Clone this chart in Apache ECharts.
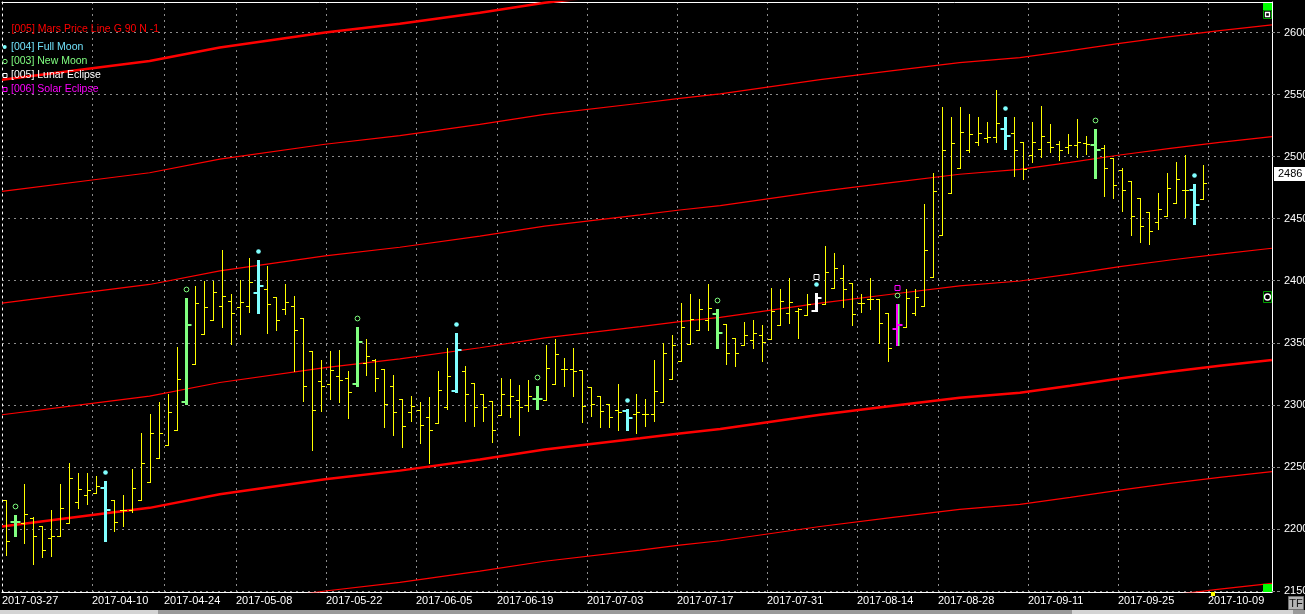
<!DOCTYPE html>
<html><head><meta charset="utf-8">
<script src="https://cdn.jsdelivr.net/npm/echarts@6/dist/echarts.min.js"></script>
<style>html,body{margin:0;padding:0;background:#000;overflow:hidden}#c{width:1305px;height:614px;}</style>
</head><body><div id="c"></div>
<script>
// ---------- data ----------
const labelIdx = [0,10,18,26,36,46,55,65,75,85,95,104,114,124,134];
const labelDates = ['2017-03-27','2017-04-10','2017-04-24','2017-05-08','2017-05-22','2017-06-05','2017-06-19','2017-07-03','2017-07-17','2017-07-31','2017-08-14','2017-08-28','2017-09-11','2017-09-25','2017-10-09'];
const yTicks = [2150,2200,2250,2300,2350,2400,2450,2500,2550,2600];

const opens = [2223,2206,2205,2209,2202,2193,2194,2205,2222,2227,
2229,2233,2223,2215,2215,2223,2238,2257,2268,2280,
2302,2333,2357,2368,2380,2384,2379,2380,2390,2393,
2387,2377,2380,2370,2343,2319,2317,2323,2322,2317,
2334,2336,2329,2315,2305,2294,2296,2290,2285,2298,
2311,2327,2318,2309,2303,2292,2300,2304,2300,2305,
2304,2317,2329,2329,2328,2314,2307,2301,2296,2295,
2293,2293,2293,2302,2321,2335,2349,2360,2368,2373,
2365,2354,2348,2352,2356,2353,2364,2374,2376,2372,
2376,2381,2394,2402,2398,2382,2385,2385,2374,2361,
2363,2374,2380,2403,2437,2471,2491,2505,2512,2515,
2516,2522,2519,2512,2501,2506,2512,2510,2508,2509,
2511,2509,2507,2499,2489,2480,2467,2455,2447,2452,
2463,2473,2473,2466];
const highs = [2223,2211,2236,2210,2202,2215,2236,2253,2245,2245,
2243,2239,2223,2227,2248,2277,2293,2302,2309,2347,
2386,2396,2400,2400,2425,2389,2401,2418,2417,2412,
2387,2397,2388,2370,2343,2336,2343,2344,2327,2363,
2353,2337,2329,2324,2305,2307,2302,2306,2327,2346,
2358,2331,2318,2309,2303,2322,2321,2316,2320,2315,
2348,2353,2338,2346,2328,2314,2307,2301,2317,2297,
2309,2305,2336,2350,2356,2382,2389,2385,2397,2377,
2365,2354,2367,2368,2364,2394,2393,2402,2378,2389,
2390,2428,2422,2413,2398,2389,2402,2385,2374,2381,
2393,2393,2462,2487,2540,2532,2540,2534,2532,2528,
2554,2532,2532,2512,2528,2541,2526,2513,2518,2530,
2517,2522,2509,2499,2491,2480,2467,2455,2471,2487,
2496,2501,2478,2493];
const lows = [2179,2194,2189,2172,2177,2178,2194,2205,2217,2220,
2229,2190,2198,2202,2214,2223,2238,2257,2268,2280,
2301,2333,2357,2368,2363,2349,2357,2375,2374,2358,
2360,2373,2327,2303,2264,2295,2305,2302,2289,2315,
2324,2311,2282,2276,2266,2287,2269,2253,2285,2297,
2310,2287,2283,2287,2270,2292,2290,2276,2295,2297,
2304,2317,2315,2307,2286,2291,2282,2282,2280,2280,
2277,2283,2287,2302,2321,2335,2349,2360,2360,2346,
2333,2331,2348,2346,2335,2353,2364,2366,2354,2372,
2376,2381,2394,2379,2364,2375,2377,2350,2335,2348,
2363,2372,2380,2403,2437,2471,2491,2504,2509,2512,
2512,2506,2484,2482,2496,2500,2504,2497,2503,2500,
2502,2483,2468,2467,2456,2437,2431,2430,2442,2452,
2463,2451,2446,2466];
const closes = [2190,2206,2212,2194,2183,2194,2217,2241,2232,2231,
2235,2215,2206,2215,2233,2253,2277,2277,2294,2321,
2364,2382,2379,2391,2388,2374,2383,2399,2396,2381,
2368,2383,2360,2315,2296,2315,2328,2320,2310,2351,
2339,2322,2301,2294,2283,2299,2284,2280,2312,2323,
2344,2309,2298,2298,2280,2309,2307,2298,2307,2305,
2330,2341,2329,2327,2299,2301,2295,2290,2294,2289,
2294,2293,2311,2342,2348,2363,2369,2377,2378,2358,
2342,2342,2356,2358,2351,2376,2384,2383,2377,2381,
2386,2407,2410,2393,2373,2382,2385,2366,2346,2364,
2386,2387,2425,2472,2505,2511,2520,2518,2519,2516,
2527,2517,2505,2490,2512,2517,2508,2505,2509,2512,
2510,2505,2491,2477,2473,2452,2444,2440,2458,2475,
2482,2473,2461,2479];

const fullMoon = [11,28,50,69,90,111,132];
const newMoon = [1,20,39,59,79,99,121];
const lunarEclipse = [90];
const solarEclipse = [99];

// Mars price line (base harmonic), read at sample positions [axis position, price]
const marsBase = [[0,2202],[10.9,2212],[16.4,2217],[24.2,2228],[35.9,2240],[44.2,2247],[53.1,2256],[60.3,2264],[70.9,2273],[75.3,2277],[79.8,2280.5],[90.9,2292],[99,2299.3],[106.4,2305.8],[113.1,2309.8],[118.7,2315.4],[124.2,2321.3],[129.8,2326.7],[135.3,2331.5],[141.1,2336.2]];
const marsOffsets = [-180,-90,0,90,180,270,360];
const marsMajor = [0,360];
const lastPrice = 2486;

// ---------- chart ----------
const FONT = '"Liberation Sans", Arial, sans-serif';
const COL = {none:'#ffff00', full:'#80ffff', new:'#80ff80', lunar:'#ffffff', solar:'#ff00ff'};
function kindOf(i){
  if (lunarEclipse.includes(i)) return 'lunar';
  if (solarEclipse.includes(i)) return 'solar';
  if (fullMoon.includes(i)) return 'full';
  if (newMoon.includes(i)) return 'new';
  return 'none';
}
function seg(x1,y1,x2,y2,c,w){return {type:'line',shape:{x1,y1,x2,y2},style:{stroke:c,lineWidth:w,lineCap:'butt'},silent:true};}

function renderItem(params, api){
  const i = api.value(0);
  const pos = i + 0.5;
  const cx = Math.round(api.coord([pos, api.value(2)])[0] - 0.5) + 0.5;
  const yh = Math.round(api.coord([pos, api.value(2)])[1]);
  const yl = Math.round(api.coord([pos, api.value(3)])[1]);
  const yo = api.coord([pos, api.value(1)])[1];
  const yc = api.coord([pos, api.value(4)])[1];
  const kind = kindOf(i);
  const c = COL[kind];
  const ch = [];
  if (kind === 'none'){
    ch.push(seg(cx, yh, cx, yl+1, c, 1));
    const ro = Math.round(yo)+0.5, rc = Math.round(yc)+0.5;
    ch.push(seg(cx-3.5, ro, cx+0.5, ro, c, 1));
    ch.push(seg(cx-0.5, rc, cx+3.5, rc, c, 1));
  } else {
    const ro = Math.round(yo), rc = Math.round(yc);
    if (kind === 'solar'){
      ch.push(seg(cx+1, yh, cx+1, yl+1, COL.new, 2));
      ch.push(seg(cx-0.5, yh, cx-0.5, yl+1, c, 2));
    } else {
      ch.push(seg(cx, yh, cx, yl+1, c, 3));
    }
    ch.push(seg(cx-5, ro, cx, ro, c, 2));
    ch.push(seg(cx, rc, cx+5, rc, c, 2));
    if (kind === 'full' || kind === 'lunar'){
      ch.push({type:'circle',shape:{cx:cx,cy:yh-8.5,r:2.3},style:{fill:COL.full},silent:true});
    }
    if (kind === 'new' || kind === 'solar'){
      ch.push({type:'circle',shape:{cx:cx,cy:yh-8.5,r:2.4},style:{fill:null,stroke:COL.new,lineWidth:1},silent:true});
    }
    if (kind === 'lunar'){
      ch.push({type:'rect',shape:{x:cx-2.5,y:yh-18.5,width:5,height:5},style:{fill:null,stroke:COL.lunar,lineWidth:1},silent:true});
    }
    if (kind === 'solar'){
      ch.push({type:'rect',shape:{x:cx-2.5,y:yh-18.5,width:5,height:5},style:{fill:null,stroke:COL.solar,lineWidth:1},silent:true});
    }
  }
  return {type:'group', children: ch};
}

const barData = opens.map((o,i)=>[i, o, highs[i], lows[i], closes[i]]);

const marsSeries = marsOffsets.map(off => ({
  type:'line', silent:true, showSymbol:false, symbol:'none', clip:true, z:1,
  data: marsBase.map(p => [p[0], p[1] + off]),
  lineStyle:{color:'#ff0000', width: marsMajor.includes(off) ? 2.5 : 1.2}
}));

const X_MAX = 1270/9;
const gridLine = {color:'#8c8c8c', width:1, type:[2,4]};

const legendItems = [
  {t:'[005] Mars Price Line G 90 N -1', c:'#ff0000', y:29.5},
  {t:'[004] Full Moon', c:'#70e0f8', y:47},
  {t:'[003] New Moon', c:'#80ff80', y:61.5},
  {t:'[005] Lunar Eclipse', c:'#ffffff', y:75.5},
  {t:'[006] Solar Eclipse', c:'#ff00ff', y:89.5}
];
const graphics = legendItems.map((it, k) => ({
  type:'text', silent:true, z:100,
  style:{text:it.t, x: k===0 ? 11.5 : 11, y: it.y, fill: it.c, font:'10.5px ' + FONT, verticalAlign:'middle'}
}));
graphics.push(
  {type:'circle', shape:{cx:4.7, cy:47, r:2}, style:{fill:'#80ffff'}, z:100},
  {type:'circle', shape:{cx:5, cy:61.5, r:2.2}, style:{fill:null, stroke:'#80ff80', lineWidth:1}, z:100},
  {type:'rect', shape:{x:3, y:73.5, width:4, height:4}, style:{fill:null, stroke:'#ffffff', lineWidth:1}, z:100},
  {type:'rect', shape:{x:3, y:87.5, width:4, height:4}, style:{fill:null, stroke:'#ff00ff', lineWidth:1}, z:100},
  // right-edge widgets
  {type:'rect', shape:{x:1263, y:3, width:9, height:7}, style:{fill:'#00ff00'}, z:100},
  {type:'rect', shape:{x:1263.5, y:10.5, width:8, height:8}, style:{fill:'#000', stroke:'#00a000', lineWidth:1}, z:100},
  {type:'rect', shape:{x:1265.5, y:12.5, width:4, height:4}, style:{fill:null, stroke:'#ffffff', lineWidth:1.3}, z:101},
  {type:'rect', shape:{x:1263.5, y:291.5, width:8, height:11}, style:{fill:'#000', stroke:'#00a000', lineWidth:1}, z:100},
  {type:'circle', shape:{cx:1267.5, cy:297, r:3}, style:{fill:null, stroke:'#ffffff', lineWidth:1.3}, z:101},
  {type:'rect', shape:{x:1263, y:584, width:9, height:8}, style:{fill:'#00ff00'}, z:100},
  {type:'rect', shape:{x:1211, y:592, width:4, height:4}, style:{fill:'#ffff00'}, z:100},
  // bottom strip and TF button
  {type:'rect', shape:{x:0, y:610, width:1305, height:4}, style:{fill:'#9a9a9a'}, z:90},
  {type:'rect', shape:{x:0, y:610, width:158, height:4}, style:{fill:'#d4d4d4'}, z:91},
  {type:'rect', shape:{x:1072, y:610, width:221, height:4}, style:{fill:'#d4d4d4'}, z:91},
  {type:'rect', shape:{x:1288.5, y:596.5, width:15, height:13}, style:{fill:'#b4b4b4', stroke:'#707070', lineWidth:1}, z:100},
  {type:'text', style:{text:'TF', x:1296, y:603.5, fill:'#101010', font:'11px ' + FONT, align:'center', verticalAlign:'middle'}, z:101}
);

const chart = echarts.init(document.getElementById('c'), null, {renderer:'canvas'});
chart.setOption({
  backgroundColor:'#000',
  animation:false,
  grid:{left:2, right:33, top:2, bottom:22, containLabel:false, outerBoundsMode:'none'},
  xAxis:[{
    type:'value', min:0, max:X_MAX, position:'bottom',
    axisLine:{show:true, onZero:false, lineStyle:{color:'#ffffff', width:1}},
    axisTick:{show:false, customValues: labelIdx},
    axisLabel:{customValues: labelIdx, formatter: v => labelDates[labelIdx.indexOf(v)] || '', color:'#ffffff', fontSize:11, fontFamily:FONT, align:'left', margin:3},
    splitLine:{show:true, lineStyle:gridLine}
  },{
    type:'value', min:0, max:X_MAX, position:'top',
    axisLine:{show:true, onZero:false, lineStyle:{color:'#ffffff', width:1}},
    axisTick:{show:false}, axisLabel:{show:false}, splitLine:{show:false}
  }],
  yAxis:[{
    type:'value', position:'right', min:2149.2, max:2624.6,
    axisLine:{show:true, onZero:false, lineStyle:{color:'#ffffff', width:1}},
    axisTick:{show:true, customValues: yTicks, length:8, lineStyle:{color:'#8c8c8c', width:1, type:[3,2]}},
    axisLabel:{customValues: yTicks, formatter: v => String(v), color:'#ffffff', fontSize:11, fontFamily:FONT, margin:12},
    splitLine:{show:true, lineStyle:gridLine}
  },{
    type:'value', position:'left', min:2149.2, max:2624.6,
    axisLine:{show:true, onZero:false, lineStyle:{color:'#ffffff', width:1, type:[2,4]}},
    axisTick:{show:false}, axisLabel:{show:false}, splitLine:{show:false}
  }],
  series: marsSeries.concat([{
    type:'custom', name:'OHLC', renderItem: renderItem, data: barData, clip:true, z:5,
    encode:{x:0, y:[1,2,3,4]}
  },{
    type:'line', data:[], clip:false, silent:true,
    markLine:{silent:true, symbol:'none', animation:false, data:[{yAxis:lastPrice}],
      lineStyle:{color:'transparent', width:0},
      label:{position:'end', distance:2, formatter:String(lastPrice), color:'#000', backgroundColor:'#ffffff', padding:[2,4,1,4], fontSize:11, fontFamily:FONT}}
  }]),
  graphic: graphics
});
</script>
</body></html>
